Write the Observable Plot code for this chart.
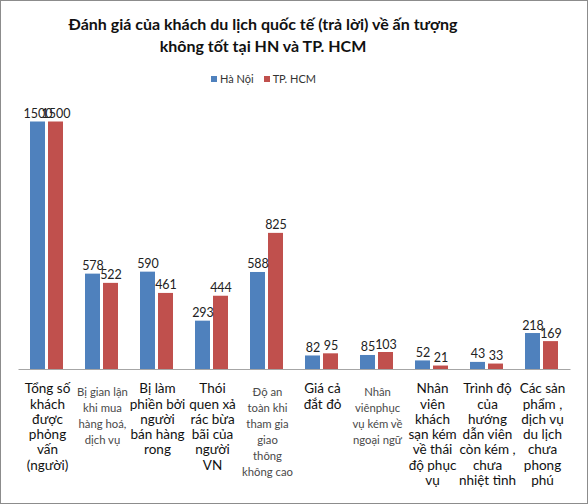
<!DOCTYPE html>
<html>
<head>
<meta charset="utf-8">
<script src="https://cdn.jsdelivr.net/npm/d3@7"></script>
<script src="https://cdn.jsdelivr.net/npm/@observablehq/plot@0.6"></script>
<style>
  body { margin: 0; background: #fff; }
  #chart {
    position: relative; width: 588px; height: 504px;
    box-sizing: border-box; border: 1px solid #8c8c8c;
    font-family: Lato, "Open Sans", sans-serif;
  }
  #title {
    position: absolute; top: 12px; left: 0; width: 524px;
    text-align: center; font-weight: bold; font-size: 16px;
    line-height: 22px; color: #111;
  }
  #legend {
    position: absolute; top: 71px; left: 210px;
    font-size: 11px; line-height: 14px; color: #333; white-space: nowrap;
  }
  #legend span.sw { display: inline-block; width: 6px; height: 6px; margin: 0 3px 1px 0; }
  #legend span.item { margin-right: 10px; }
  #plot { position: absolute; top: 91px; left: 0; }
</style>
</head>
<body>
<div id="chart">
  <div id="title">Đánh giá của khách du lịch quốc tế (trả lời) về ấn tượng<br>không tốt tại HN và TP. HCM</div>
  <div id="legend"></div>
  <div id="plot"></div>
</div>
<script>
// categories (tick labels, with the line breaks of the picture)
const categories = [
  "Tổng số\nkhách\nđược\nphỏng\nvấn\n(người)",
  "Bị gian lận\nkhi mua\nhàng hoá,\ndịch vụ",
  "Bị làm\nphiền bởi\nngười\nbán hàng\nrong",
  "Thói\nquen xả\nrác bừa\nbãi của\nngười\nVN",
  "Độ an\ntoàn khi\ntham gia\ngiao\nthông\nkhông cao",
  "Giá cả\nđắt đỏ",
  "Nhân\nviênphục\nvụ kém về\nngoại ngữ",
  "Nhân\nviên\nkhách\nsạn kém\nvề thái\nđộ phục\nvụ",
  "Trình độ\ncủa\nhướng\ndẫn viên\ncòn kém ,\nchưa\nnhiệt tình",
  "Các sản\nphẩm ,\ndịch vụ\ndu lịch\nchưa\nphong\nphú"
];
// labels drawn in the smaller grey type
const smallLabels = [categories[1], categories[4], categories[6]];

const series = ["Hà Nội", "TP. HCM"];
const colors = ["#4f81bd", "#c0504d"];
const hanoi = [1500, 578, 590, 293, 588, 82, 85, 52, 43, 218];
const hcm = [1500, 522, 461, 444, 825, 95, 103, 21, 33, 169];

const rows = categories.flatMap((c, i) => [
  {category: c, series: series[0], value: hanoi[i]},
  {category: c, series: series[1], value: hcm[i]}
]);

// legend
const legend = document.getElementById("legend");
series.forEach((s, i) => {
  const item = document.createElement("span");
  item.className = "item";
  item.innerHTML = `<span class="sw" style="background:${colors[i]}"></span>${s}`;
  legend.appendChild(item);
});

const plot = Plot.plot({
  width: 586,
  height: 410,
  marginLeft: 14,
  marginRight: 14,
  marginTop: 13,
  marginBottom: 133,
  style: {fontFamily: "Lato, 'Open Sans', sans-serif", fontSize: "12px", color: "#222", background: "transparent"},
  fx: {domain: categories, paddingInner: 0.39, paddingOuter: 0.195, axis: null},
  x: {domain: series, paddingInner: 0.16, paddingOuter: 0, axis: null},
  y: {domain: [0, 1600], axis: null},
  color: {domain: series, range: colors},
  marks: [
    // baseline, stretched over the gaps between the groups
    Plot.ruleY([0], {stroke: "#a6a6a6", insetLeft: -11.5, insetRight: -11.5}),
    Plot.barY(rows, {fx: "category", x: "series", y: "value", fill: "series"}),
    Plot.text(rows, {fx: "category", x: "series", y: "value", text: d => String(d.value),
      lineAnchor: "bottom", dy: -4, fontSize: 12.5, fill: "#222"}),
    // category labels under each group
    Plot.text(categories.filter(c => !smallLabels.includes(c)), {
      fx: d => d, text: d => d, frameAnchor: "bottom", lineAnchor: "top", dy: 13,
      fontSize: 13.5, lineHeight: 1.13, fill: "#111"
    }),
    Plot.text(smallLabels, {
      fx: d => d, text: d => d, frameAnchor: "bottom", lineAnchor: "top", dy: 15,
      fontSize: 11.3, lineHeight: 1.42, fill: "#4a4a4a"
    })
  ]
});
document.getElementById("plot").appendChild(plot);
</script>
</body>
</html>
